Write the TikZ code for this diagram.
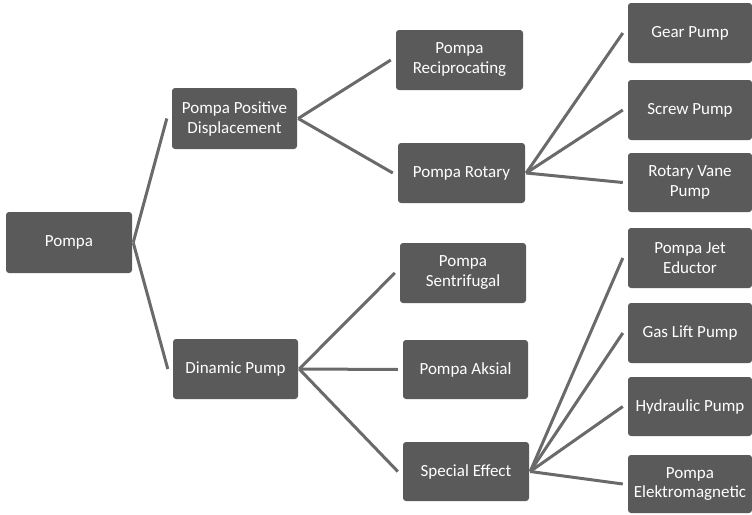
\documentclass[tikz,border=0pt]{standalone}
\usepackage{fontspec}
\setmainfont{Carlito}
\usetikzlibrary{calc}
\definecolor{boxgray}{HTML}{5A5A5A}
\definecolor{linegray}{HTML}{6A6A6A}
\tikzset{
  bx/.style={draw=none, fill=boxgray, rounded corners=3pt, text=white, align=center,
    inner sep=0pt, font=\fontsize{17}{20}\selectfont},
  conn/.style={draw=linegray, line width=3pt}
}
\newcommand{\bxnode}[6]{\node[bx, minimum width=#4pt, minimum height=#5pt] (#1) at (#2,#3) {#6};}
\begin{document}
\begin{tikzpicture}[x=1pt,y=-1pt]
\useasboundingbox (0,0) rectangle (752,514);
\fill[white] (0,0) rectangle (752,514);
\bxnode{pompa}{69}{242.5}{126}{61}{Pompa}
\bxnode{ppd}{234.5}{118.5}{125}{61}{Pompa Positive\\Displacement}
\bxnode{dp}{235.5}{369}{125}{60}{Dinamic Pump}
\bxnode{recip}{459.5}{60}{127}{60}{Pompa\\Reciprocating}
\bxnode{rotary}{461.5}{173}{127}{60}{Pompa Rotary}
\bxnode{sentr}{463}{273}{126}{60}{Pompa\\Sentrifugal}
\bxnode{aksial}{465.5}{369.5}{125}{59}{Pompa Aksial}
\bxnode{special}{466}{471.5}{126}{59}{Special Effect}
\bxnode{gear}{690}{33}{124}{60}{Gear Pump}
\bxnode{screw}{690}{110}{124}{60}{Screw Pump}
\bxnode{vane}{690}{182.5}{124}{59}{Rotary Vane\\Pump}
\bxnode{jet}{690}{258}{124}{60}{Pompa Jet\\Eductor}
\bxnode{gas}{690}{333}{124}{60}{Gas Lift Pump}
\bxnode{hydr}{690}{406.5}{124}{59}{Hydraulic Pump}
\bxnode{elek}{690}{484}{124}{58}{Pompa\\Elektromagnetic}
\foreach \p/\c in {pompa/ppd, pompa/dp, ppd/recip, ppd/rotary, dp/sentr, dp/aksial, dp/special,
  rotary/gear, rotary/screw, rotary/vane, special/jet, special/gas, special/hydr, special/elek}{
  \draw[conn] ($(\p.east)+(1,0)$) -- ($(\c.west)+(-5,0)$);
}
\end{tikzpicture}
\end{document}
